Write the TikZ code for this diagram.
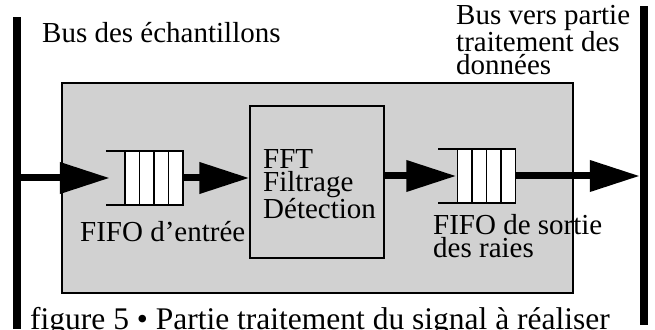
\documentclass[tikz,border=0pt]{standalone}
\usepackage{fontspec}
\setmainfont{Liberation Serif}
\usetikzlibrary{arrows.meta,positioning}

\begin{document}
\begin{tikzpicture}[x=1pt,y=1pt,
    bus/.style={fill=black,inner sep=0pt,minimum width=8pt},
    panel/.style={draw,line width=2pt,fill=black!18,inner sep=0pt},
    fifo/.style={inner sep=0pt,minimum width=77pt,minimum height=54pt},
    flow/.style={line width=7pt,-{Triangle[length=50pt,width=30pt]}},
    lbl/.style={inner sep=0pt,font=\fontsize{29}{23}\selectfont,align=left}]
  \useasboundingbox (0,0) rectangle (655,329);
  % the two buses
  \node[bus,minimum height=312pt] (busin) at (17,156) {};
  \node[bus,minimum height=319pt] (busout) at (644,163.5) {};
  % signal processing part
  \node[panel,minimum width=511pt,minimum height=210pt] (part) at (317.5,141) {};
  \node[panel,line width=1.2pt,minimum width=134pt,minimum height=152pt] (fft) at (317,147) {};
  \node[fifo] (fifoin) at (144.5,151) {};
  \node[fifo] (fifoout) at (477,153) {};
  % fifo cells
  \foreach \f in {fifoin,fifoout} {
    \fill[white] ([xshift=19pt]\f.north west) rectangle (\f.south east);
    \draw[line width=1.5pt] (\f.north west) -- (\f.north east) -- (\f.south east) -- (\f.south west);
    \foreach \k in {0,1,2,3}
      \draw[line width=1.5pt] ([xshift={19pt+\k*14.5pt}]\f.north west) -- ([xshift={19pt+\k*14.5pt}]\f.south west);
  }
  % data flow
  \draw[flow] (busin.east |- fifoin.west) -- ([xshift=4pt]fifoin.west);
  \draw[flow] (fifoin.east) -- (fifoin.east -| fft.west);
  \draw[flow] (fft.east |- fifoout.west) -- ([xshift=18pt]fifoout.west);
  \draw[flow] (fifoout.east) -- (fifoout.east -| busout.west);
  % labels (base = last line)
  \node[lbl,anchor=base west] (tbusin) at (42,286) {Bus des échantillons};
  \node[lbl,anchor=base west] (tbusout) at (456,254) {Bus vers partie\\traitement des\\données};
  \node[lbl,anchor=base west] (tfft) at (263,110) {FFT\\Filtrage\\Détection};
  \node[lbl,anchor=base west] (tfifoin) at (80,87) {FIFO d’entrée};
  \node[lbl,anchor=base west] (tfifoout) at (433,71) {FIFO de sortie\\des raies};
  \node[anchor=base west,inner sep=0pt,font=\fontsize{31.5}{31.5}\selectfont] (caption) at (30,0)
    {figure 5 • Partie traitement du signal à réaliser};
\end{tikzpicture}
\end{document}
